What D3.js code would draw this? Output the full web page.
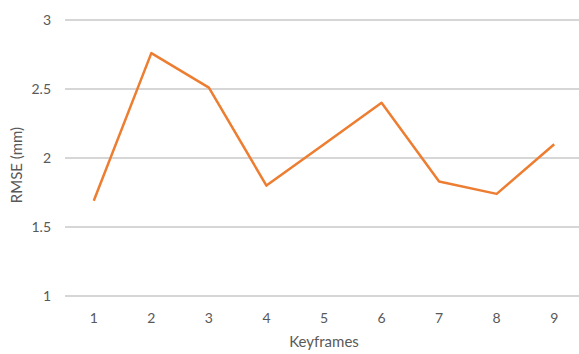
<!DOCTYPE html>
<html>
<head>
<meta charset="utf-8">
<script src="https://cdn.jsdelivr.net/npm/d3@7"></script>
<style>
  body { margin: 0; background: #fff; }
  svg text { font-family: Lato, "Open Sans", sans-serif; fill: #595959; }
</style>
</head>
<body>
<svg></svg>
<script>
const width = 579
const height = 354

const keyframes = [1, 2, 3, 4, 5, 6, 7, 8, 9]
const rmse = [1.69, 2.76, 2.51, 1.80, 2.10, 2.40, 1.83, 1.74, 2.10]
const yTicks = [1, 1.5, 2, 2.5, 3]

const margin = { top: 20, right: -4, bottom: 58, left: 65 }

const svg = d3.select('svg')
    .attr('width', width)
    .attr('height', height)

const x = d3.scaleBand()
    .domain(keyframes)
    .range([margin.left, width - margin.right])

const y = d3.scaleLinear()
    .domain([1, 3])
    .range([height - margin.bottom, margin.top])

// gridlines
svg.append('g')
    .selectAll('line')
    .data(yTicks)
    .enter()
    .append('line')
    .attr('x1', margin.left)
    .attr('x2', width)
    .attr('y1', d => y(d))
    .attr('y2', d => y(d))
    .attr('stroke', '#c8c8c8')
    .attr('stroke-width', 1.3)

// y tick labels
svg.append('g')
    .selectAll('text')
    .data(yTicks)
    .enter()
    .append('text')
    .attr('x', 51)
    .attr('y', d => y(d))
    .attr('dy', '0.35em')
    .attr('text-anchor', 'end')
    .style('font-size', '14px')
    .text(d => d)

// x tick labels
svg.append('g')
    .selectAll('text')
    .data(keyframes)
    .enter()
    .append('text')
    .attr('x', d => x(d) + x.bandwidth() / 2)
    .attr('y', y(1) + 22)
    .attr('dy', '0.35em')
    .attr('text-anchor', 'middle')
    .style('font-size', '14px')
    .text(d => d)

// axis titles
svg.append('text')
    .attr('x', 324)
    .attr('y', 342)
    .attr('dy', '0.35em')
    .attr('text-anchor', 'middle')
    .style('font-size', '15px')
    .text('Keyframes')

svg.append('text')
    .attr('transform', 'translate(17,165) rotate(-90)')
    .attr('dy', '0.35em')
    .attr('text-anchor', 'middle')
    .style('font-size', '15px')
    .text('RMSE (mm)')

// series line
const line = d3.line()
    .x((d, i) => x(keyframes[i]) + x.bandwidth() / 2)
    .y(d => y(d))

svg.append('path')
    .datum(rmse)
    .attr('d', line)
    .attr('fill', 'none')
    .attr('stroke', '#ED7D31')
    .attr('stroke-width', 2.5)
    .attr('stroke-linejoin', 'round')
</script>
</body>
</html>
